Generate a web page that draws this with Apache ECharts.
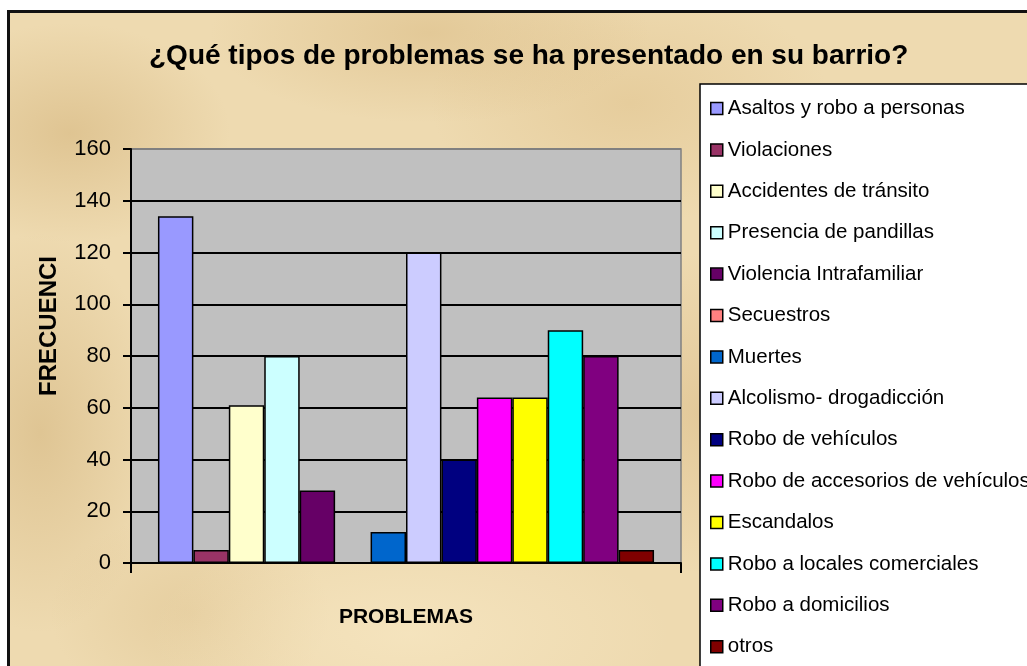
<!DOCTYPE html>
<html>
<head>
<meta charset="utf-8">
<script src="https://cdn.jsdelivr.net/npm/echarts@6/dist/echarts.min.js"></script>
<style>
  html, body { margin: 0; padding: 0; background: #fff; overflow: hidden; }
  #frame {
    position: absolute; left: 7px; top: 10px; width: 1040px; height: 720px;
    border-left: 3px solid #111; border-top: 3px solid #111;
    background:
      radial-gradient(ellipse 160px 110px at 60px 120px, rgba(205,170,110,0.45), transparent),
      radial-gradient(ellipse 220px 90px at 420px 20px, rgba(210,175,115,0.40), transparent),
      radial-gradient(ellipse 120px 200px at 30px 420px, rgba(200,165,105,0.40), transparent),
      radial-gradient(ellipse 200px 120px at 620px 90px, rgba(215,180,120,0.35), transparent),
      radial-gradient(ellipse 260px 110px at 400px 620px, rgba(250,235,200,0.55), transparent),
      radial-gradient(ellipse 140px 100px at 180px 600px, rgba(215,185,130,0.35), transparent),
      radial-gradient(ellipse 120px 160px at 690px 400px, rgba(210,175,120,0.40), transparent),
      #EEDAB0;
  }
  #chart { position: absolute; left: 0; top: 0; width: 1027px; height: 720px; }
</style>
</head>
<body>
<div id="frame"></div>
<div id="chart"></div>
<script>
const problemas = [
  'Asaltos y robo a personas',
  'Violaciones',
  'Accidentes de tránsito',
  'Presencia de pandillas',
  'Violencia Intrafamiliar',
  'Secuestros',
  'Muertes',
  'Alcolismo- drogadicción',
  'Robo de vehículos',
  'Robo de accesorios de vehículos',
  'Escandalos',
  'Robo a locales comerciales',
  'Robo a domicilios',
  'otros'
];
const frecuencias = [134, 5, 61, 80, 28, 0, 12, 120, 40, 64, 64, 90, 80, 5];
const colores = [
  '#9999FF', '#993366', '#FFFFCC', '#CCFFFF', '#660066', '#FF8080', '#0066CC',
  '#CCCCFF', '#000080', '#FF00FF', '#FFFF00', '#00FFFF', '#800080', '#800000'
];
const yTicks = [0, 20, 40, 60, 80, 100, 120, 140, 160];

const font = '"Liberation Sans", Arial, sans-serif';
const chart = echarts.init(document.getElementById('chart'));

const series = problemas.map((name, i) => ({
  name,
  type: 'bar',
  data: [frecuencias[i]],
  barGap: '0%',
  barCategoryGap: '9.8%',
  itemStyle: { color: colores[i], borderColor: '#000', borderWidth: 1.5 },
  emphasis: { disabled: true }
}));

// top gridline is the gray plot border, like in Excel
const gridColors = yTicks.map((v, i) => (i === yTicks.length - 1 ? '#808080' : '#000'));

chart.setOption({
  animation: false,
  title: {
    text: '¿Qué tipos de problemas se ha presentado en su barrio?',
    left: 149,
    top: 42,
    padding: 0,
    textStyle: { fontFamily: font, fontSize: 28, fontWeight: 'bold', color: '#000' }
  },
  legend: {
    orient: 'vertical',
    left: 700,
    top: 84,
    padding: [14, 40, 12, 10],
    backgroundColor: '#fff',
    borderColor: '#000',
    borderWidth: 1.5,
    borderRadius: 0,
    icon: 'rect',
    itemWidth: 12,
    itemHeight: 12,
    itemGap: 20.4,
    itemStyle: { borderColor: '#000', borderWidth: 1.5 },
    textStyle: { fontFamily: font, fontSize: 20.5, color: '#000', lineHeight: 20 },
    data: problemas
  },
  grid: {
    left: 131, top: 149, width: 550, height: 414,
    show: true, backgroundColor: '#C0C0C0', borderColor: '#808080', borderWidth: 1.5
  },
  xAxis: {
    type: 'category',
    data: ['PROBLEMAS'],
    name: 'PROBLEMAS',
    nameLocation: 'middle',
    nameGap: 44,
    nameTextStyle: { fontFamily: font, fontSize: 21, fontWeight: 'bold', color: '#000', verticalAlign: 'top' },
    axisLine: { lineStyle: { color: '#000', width: 2 } },
    axisTick: { show: true, length: 10, lineStyle: { color: '#000', width: 2 } },
    axisLabel: { show: false }
  },
  yAxis: {
    type: 'value',
    min: yTicks[0],
    max: yTicks[yTicks.length - 1],
    interval: 20,
    name: 'FRECUENCIA',
    nameLocation: 'middle',
    nameRotate: 90,
    nameGap: 70,
    nameTruncate: { maxWidth: 145, ellipsis: '' },
    nameTextStyle: {
      fontFamily: font, fontSize: 24, fontWeight: 'bold', color: '#000',
      padding: [0, 0, 0, 60]
    },
    axisLine: { show: true, lineStyle: { color: '#000', width: 2 } },
    axisTick: { show: true, length: 8, lineStyle: { color: '#000', width: 2 } },
    axisLabel: { fontFamily: font, fontSize: 22, color: '#000', margin: 20 },
    splitLine: { show: true, lineStyle: { color: gridColors, width: 2 } }
  },
  series
});
</script>
</body>
</html>
